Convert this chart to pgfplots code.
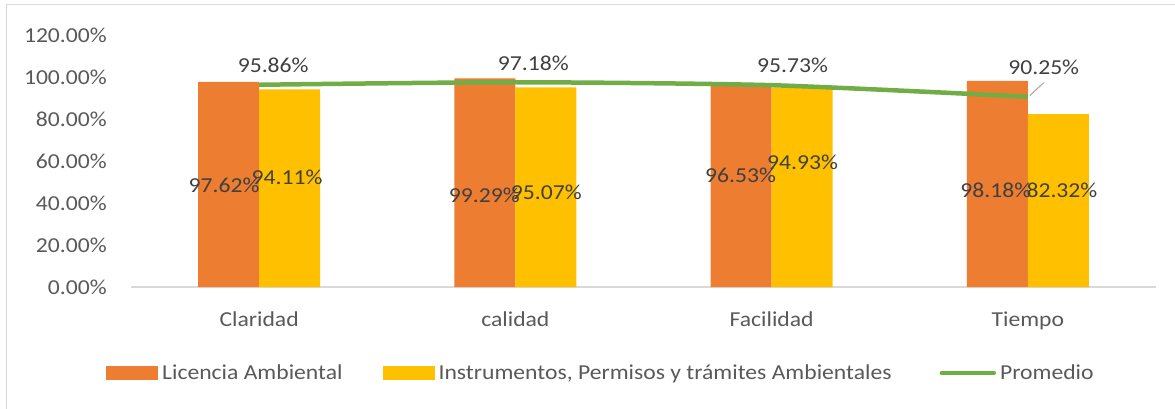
\documentclass[border=0pt]{standalone}
\usepackage{pgfplots}
\pgfplotsset{compat=1.18}
\usepackage{fontspec}
\setmainfont{Carlito}[FakeStretch=1.11]
\definecolor{cOrange}{HTML}{ED7D31}
\definecolor{cYellow}{HTML}{FFC000}
\definecolor{cGreen}{HTML}{70AD47}
\definecolor{cText}{HTML}{595959}
\definecolor{cLabel}{HTML}{404040}
\definecolor{cGrid}{HTML}{D9D9D9}
\begin{document}
\begin{tikzpicture}[font=\fontsize{21.3bp}{25bp}\selectfont]
\useasboundingbox (0,0) rectangle (1175bp,409bp);
\draw[cGrid, line width=1.2bp] (6.5bp,0) -- (6.5bp,404.5bp) -- (1175bp,404.5bp);
\begin{axis}[
 at={(131bp,122bp)}, anchor=south west,
 scale only axis, width=1025bp, height=252bp,
 xmin=-0.5, xmax=3.5, ymin=0, ymax=120,
 xtick={0,1,2,3}, xticklabels={Claridad, calidad, Facilidad, Tiempo},
 ytick={0,20,...,120}, yticklabels={0.00\%,20.00\%,40.00\%,60.00\%,80.00\%,100.00\%,120.00\%},
 axis lines*=left,
 x axis line style={cGrid, line width=1.5bp},
 y axis line style={draw=none},
 major tick length=0pt,
 tick style={draw=none},
 ticklabel style={text=cText},
 yticklabel style={inner sep=0pt, xshift=-24bp},
 xticklabel style={inner sep=0pt, yshift=-25bp},
 clip=false,
 legend style={at={(-0.0244,-0.341)}, anchor=west, draw=none, fill=none,
   legend columns=3, inner sep=0pt, text=cText,
   nodes={inner sep=0pt},
   /tikz/every odd column/.append style={column sep=4bp},
   /tikz/column 2/.append style={column sep=40bp},
   /tikz/column 4/.append style={column sep=48bp}},
 legend cell align=left,
]
\addplot[ybar, bar width=61bp, bar shift=-30.5bp, fill=cOrange, draw=none,
  legend image code/.code={\fill[cOrange] (0bp,-7bp) rectangle (52bp,7bp);}]
  coordinates {(0,97.62) (1,99.29) (2,96.53) (3,98.18)};
\addlegendentry{Licencia Ambiental}
\addplot[ybar, bar width=61bp, bar shift=30.5bp, fill=cYellow, draw=none,
  legend image code/.code={\fill[cYellow] (0bp,-7bp) rectangle (52bp,7bp);}]
  coordinates {(0,94.11) (1,95.07) (2,94.93) (3,82.32)};
\addlegendentry{Instrumentos, Permisos y trámites Ambientales}
\addplot[cGreen, line width=4.5bp, smooth, tension=0.4, mark=none,
  legend image code/.code={\draw[cGreen, line width=4.5bp, line cap=round] (2bp,0bp) -- (54bp,0bp);}]
  coordinates {(0,96.3) (1,97.5) (2,96.1) (3,90.6)};
\addlegendentry{Promedio}
% data labels
\begin{scope}[every node/.style={text=cLabel, inner sep=0pt}]
\node at (axis cs:-0.137,48.6) {97.62\%};
\node at (axis cs:0.109,52.4) {94.11\%};
\node at (axis cs:0.879,43.8) {99.29\%};
\node at (axis cs:1.121,45.2) {95.07\%};
\node at (axis cs:1.879,53.3) {96.53\%};
\node at (axis cs:2.121,59.5) {94.93\%};
\node at (axis cs:2.875,46.2) {98.18\%};
\node at (axis cs:3.133,46.2) {82.32\%};
\node at (axis cs:0.055,105.7) {95.86\%};
\node at (axis cs:1.070,106.7) {97.18\%};
\node at (axis cs:2.082,105.7) {95.73\%};
\node at (axis cs:3.062,104.8) {90.25\%};
\end{scope}
\draw[gray!70, line width=1bp] (axis cs:3.008,91.2) -- (axis cs:3.062,97.3);
\end{axis}
\end{tikzpicture}
\end{document}
